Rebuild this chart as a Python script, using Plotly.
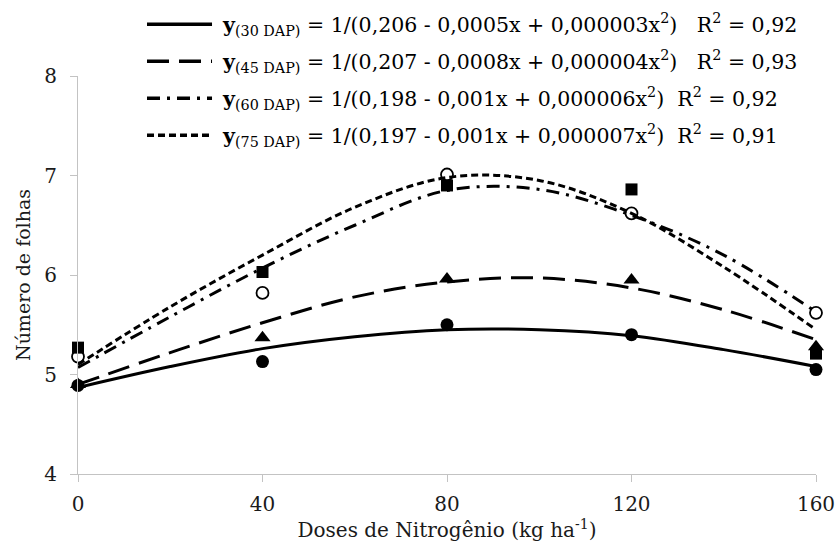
import plotly.graph_objects as go

# ---- data ----
doses = [0, 40, 80, 120, 160]
obs_30 = [4.89, 5.13, 5.50, 5.40, 5.05]   # filled circles
obs_45 = [4.90, 5.37, 5.96, 5.95, 5.28]   # filled triangles
obs_60 = [5.27, 6.03, 6.90, 6.86, 5.21]   # filled squares
obs_75 = [5.18, 5.82, 7.01, 6.62, 5.62]   # open circles

fit_x = [0, 20, 40, 60, 80, 100, 120, 140, 160]
fit_30 = [4.87, 5.08, 5.26, 5.38, 5.45, 5.45, 5.39, 5.25, 5.08]
fit_45 = [4.90, 5.22, 5.52, 5.78, 5.93, 5.97, 5.87, 5.65, 5.35]
fit_60 = [5.07, 5.58, 6.07, 6.50, 6.85, 6.86, 6.60, 6.20, 5.63]
fit_75 = [5.10, 5.68, 6.20, 6.68, 6.98, 6.95, 6.62, 6.08, 5.45]

legend_labels = [
    "<b>y</b><sub>(30 DAP)</sub> = 1/(0,206 - 0,0005x + 0,000003x<sup>2</sup>)   R<sup>2</sup> = 0,92",
    "<b>y</b><sub>(45 DAP)</sub> = 1/(0,207 - 0,0008x + 0,000004x<sup>2</sup>)   R<sup>2</sup> = 0,93",
    "<b>y</b><sub>(60 DAP)</sub> = 1/(0,198 - 0,001x + 0,000006x<sup>2</sup>)  R<sup>2</sup> = 0,92",
    "<b>y</b><sub>(75 DAP)</sub> = 1/(0,197 - 0,001x + 0,000007x<sup>2</sup>)  R<sup>2</sup> = 0,91",
]
x_ticks = [0, 40, 80, 120, 160]
y_ticks = [4, 5, 6, 7, 8]

FONT = "DejaVu Serif"
dashes = ["solid", "22px,10px", "13px,7px,3px,7px", "7px,4px"]
fits = [fit_30, fit_45, fit_60, fit_75]

fig = go.Figure()

for f, d in zip(fits, dashes):
    fig.add_trace(go.Scatter(x=fit_x, y=f, mode="lines",
                             line=dict(color="black", width=3, dash=d, shape="spline", smoothing=1.0),
                             showlegend=False, hoverinfo="skip", cliponaxis=False))

mk = [
    (obs_30, dict(symbol="circle", size=13, color="black")),
    (obs_45, dict(symbol="triangle-up", size=14, color="black")),
    (obs_60, dict(symbol="square", size=12, color="black")),
    (obs_75, dict(symbol="circle-open", size=12, color="black", line=dict(width=1.8, color="black"))),
]
for ys, m in mk:
    fig.add_trace(go.Scatter(x=doses, y=ys, mode="markers", marker=m,
                             showlegend=False, cliponaxis=False))

# manual legend (long line samples as in reference)
row_y = [1.130, 1.037, 0.944, 0.851]
shapes = []
annotations = []
for yy, d, lab in zip(row_y, dashes, legend_labels):
    shapes.append(dict(type="line", xref="paper", yref="paper",
                       x0=0.0935, x1=0.1816, y0=yy, y1=yy,
                       line=dict(color="black", width=3.5, dash=d)))
    annotations.append(dict(xref="paper", yref="paper", x=0.1924, y=yy,
                            xanchor="left", yanchor="middle", showarrow=False,
                            text=lab, font=dict(family=FONT, size=20.5, color="black")))

fig.update_layout(
    width=837, height=545,
    margin=dict(l=78, r=21, t=76, b=71),
    paper_bgcolor="white", plot_bgcolor="white",
    shapes=shapes, annotations=annotations,
    font=dict(family=FONT, color="black"),
    xaxis=dict(range=[0, 160], tickvals=x_ticks, showgrid=False, zeroline=False,
               automargin=False,
               showline=True, linecolor="#c3c3c3", linewidth=1,
               ticks="outside", ticklen=7, tickcolor="#c3c3c3", ticklabelstandoff=5,
               tickfont=dict(family=FONT, size=20, color="#1a1a1a"),
               title=dict(text="Doses de Nitrogênio (kg ha<sup>-1</sup>)",
                          font=dict(family=FONT, size=20, color="#1a1a1a"), standoff=0)),
    yaxis=dict(range=[4, 8], tickvals=y_ticks, showgrid=False, zeroline=False,
               automargin=False,
               showline=True, linecolor="#c3c3c3", linewidth=1,
               ticks="outside", ticklen=7, tickcolor="#c3c3c3", ticklabelstandoff=9,
               tickfont=dict(family=FONT, size=20, color="#1a1a1a"),
               title=dict(text="Número de folhas",
                          font=dict(family=FONT, size=19, color="#1a1a1a"), standoff=8)),
)

fig.write_html("out.html")
